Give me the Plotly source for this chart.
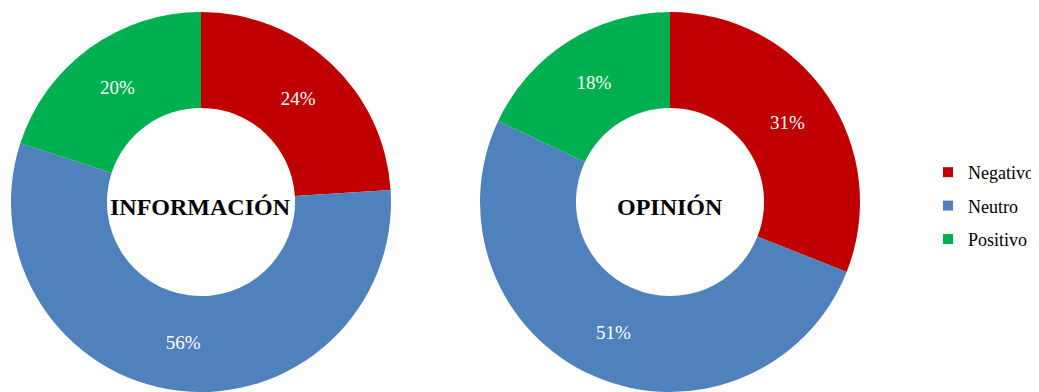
import plotly.graph_objects as go

categories = ["Negativo", "Neutro", "Positivo"]
informacion_values = [24, 56, 20]
opinion_values = [31, 51, 18]
colors = ["#C00000", "#4F81BD", "#00B050"]
center_titles = ["INFORMACIÓN", "OPINIÓN"]

FONT = "Liberation Serif, serif"

fig = go.Figure()

domains = [[0.00097, 0.3734], [0.4559, 0.8283]]
for vals, dom in zip([informacion_values, opinion_values], domains):
    fig.add_trace(go.Pie(
        labels=categories, values=vals, hole=0.495, sort=False,
        direction="clockwise", rotation=0,
        marker=dict(colors=colors, line=dict(color="white", width=0)),
        textinfo="percent", textposition="inside",
        insidetextorientation="horizontal",
        textfont=dict(family=FONT, size=19, color="white"),
        domain=dict(x=dom, y=[0, 1]),
        showlegend=False, hoverinfo="label+percent",
    ))

# legend entries
for cat, col in zip(categories, colors):
    fig.add_trace(go.Scatter(
        x=[None], y=[None], mode="markers", name=cat, legendgroup=cat,
        marker=dict(symbol="square", size=10, color=col),
    ))

for title, dom in zip(center_titles, domains):
    fig.add_annotation(
        x=(dom[0] + dom[1]) / 2, y=0.487, xref="paper", yref="paper",
        text="<b>" + title + "</b>", showarrow=False,
        font=dict(family=FONT, size=24, color="black"),
        xanchor="center", yanchor="middle",
    )

fig.update_layout(
    width=1031, height=384,
    margin=dict(l=0, r=0, t=4, b=0),
    font=dict(family=FONT, color="black"),
    paper_bgcolor="white", plot_bgcolor="white",
    xaxis=dict(visible=False), yaxis=dict(visible=False),
    legend=dict(
        x=1.0, y=0.4895, xanchor="right", yanchor="middle",
        font=dict(family=FONT, size=18, color="black"),
        tracegroupgap=7, itemwidth=30,
        bgcolor="rgba(0,0,0,0)",
    ),
)

fig.write_html("out.html")
